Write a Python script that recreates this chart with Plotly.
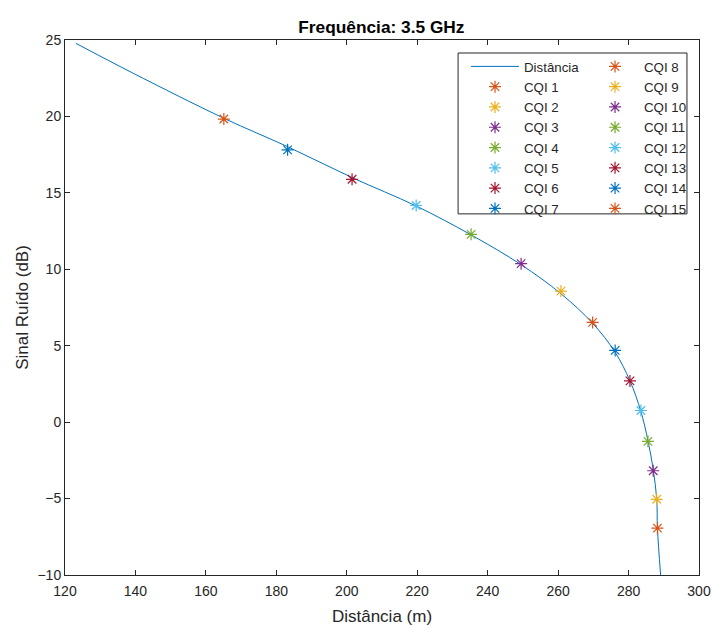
import plotly.graph_objects as go

# Line (Distância)
line_dist = [123.1, 139.4, 165.1, 183.2, 201.5, 219.7, 235.3, 249.5, 260.8, 269.8,
             276.2, 280.4, 283.5, 285.5, 287.0, 288.0, 288.2, 289.1]
line_snr = [24.78, 22.82, 19.88, 18.02, 16.0, 14.14, 12.25, 10.3, 8.4, 6.47,
            4.57, 2.7, 0.7, -1.2, -3.1, -5.04, -6.94, -10.0]

# CQI points
cqi_labels = [f"CQI {i}" for i in range(1, 16)]
cqi_snr = [-6.936, -5.047, -3.180, -1.253, 0.761, 2.699, 4.694, 6.525,
           8.573, 10.366, 12.289, 14.173, 15.888, 17.814, 19.829]
cqi_dist = [288.2, 288.0, 287.0, 285.5, 283.5, 280.4, 276.2, 269.8,
            260.8, 249.5, 235.3, 219.7, 201.5, 183.2, 165.1]

x_ticks = [120, 140, 160, 180, 200, 220, 240, 260, 280, 300]
y_ticks = [-10, -5, 0, 5, 10, 15, 20, 25]

matlab_colors = ["#D95319", "#EDB120", "#7E2F8E", "#77AC30", "#4DBEEE", "#A2142F", "#0072BD"]

fig = go.Figure()
fig.add_trace(go.Scatter(x=line_dist, y=line_snr, mode="lines", name="Distância",
                         line=dict(color="#0072BD", width=1, shape="spline"),
                         legend="legend"))
for i, (lab, xv, yv) in enumerate(zip(cqi_labels, cqi_dist, cqi_snr)):
    c = matlab_colors[i % 7]
    fig.add_trace(go.Scatter(x=[xv], y=[yv], mode="markers", name=lab,
                             marker=dict(symbol="asterisk-open", size=10,
                                         line=dict(color=c, width=1.2), color=c),
                             legend="legend" if i < 7 else "legend2"))

axis_common = dict(showgrid=False, zeroline=False, showline=True, linecolor="#262626",
                   linewidth=1, mirror="ticks", ticks="inside", ticklen=5,
                   tickcolor="#262626", tickfont=dict(size=14, color="#262626"),
                   automargin=False)

fig.update_layout(
    width=713, height=626,
    margin=dict(l=65, r=14, t=40, b=51),
    paper_bgcolor="white", plot_bgcolor="white",
    font=dict(family="Liberation Sans, Arial, sans-serif", color="#262626"),
    title=dict(text="<b>Frequência: 3.5 GHz</b>", x=0.5349, xanchor="center",
               y=0.957, yanchor="middle", font=dict(size=17.3, color="black")),
    xaxis=dict(range=[120, 300], tickvals=x_ticks, ticklabelstandoff=3,
               title=dict(text="Distância (m)", font=dict(size=17), standoff=12),
               **axis_common),
    yaxis=dict(range=[-10, 25], tickvals=y_ticks,
               title=dict(text="Sinal Ruído (dB)", font=dict(size=17), standoff=4),
               **axis_common),
    legend=dict(x=0.6325, y=0.979, xanchor="left", yanchor="top", itemwidth=48,
                bgcolor="rgba(0,0,0,0)", borderwidth=0, font=dict(size=13.3),
                tracegroupgap=0),
    legend2=dict(x=0.8218, y=0.979, xanchor="left", yanchor="top", itemwidth=48,
                 bgcolor="rgba(0,0,0,0)", borderwidth=0, font=dict(size=13.3),
                 tracegroupgap=0),
    shapes=[dict(type="rect", xref="paper", yref="paper", x0=0.62, x1=0.981,
                 y0=0.675, y1=0.9757, line=dict(color="#262626", width=1),
                 fillcolor="white", layer="above")],
    showlegend=True,
)

fig.write_html("out.html", config={"displayModeBar": False},
               post_script="document.body.style.margin='0';document.body.style.overflow='hidden';")
